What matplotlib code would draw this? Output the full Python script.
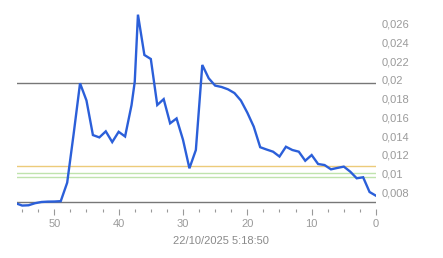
import matplotlib
matplotlib.use('Agg')
import matplotlib.pyplot as plt
from matplotlib.ticker import MultipleLocator

plt.rcParams['font.family'] = ['Liberation Sans', 'DejaVu Sans']

# minutes back from the timestamp, and the measured value
minutes = [56, 55, 54, 53, 52, 51, 50, 49, 48, 47, 46, 45, 44, 43, 42, 41, 40, 39, 38,
           37.5, 37, 36, 35, 34, 33, 32, 31, 30, 29, 28, 27, 26, 25, 24, 23, 22, 21, 20,
           19, 18, 17, 16, 15, 14, 13, 12, 11, 10, 9, 8, 7, 6, 5, 4, 3, 2, 1, 0]
values = [0.00680, 0.00655, 0.00658, 0.00680, 0.00693, 0.00697, 0.00698, 0.00702, 0.00900,
          0.01420, 0.01965, 0.01780, 0.01410, 0.01385, 0.01450, 0.01335, 0.01445, 0.01395,
          0.01730, 0.01980, 0.02700, 0.02268, 0.02225, 0.01732, 0.01795, 0.01536, 0.01588,
          0.01360, 0.01054, 0.01250, 0.02161, 0.02018, 0.01940, 0.01925, 0.01900, 0.01860,
          0.01780, 0.01650, 0.01500, 0.01280, 0.01255, 0.01232, 0.01180, 0.01285, 0.01250,
          0.01232, 0.01135, 0.01196, 0.01100, 0.01089, 0.01043, 0.01058, 0.01072, 0.01018,
          0.00947, 0.00958, 0.00800, 0.00760]

# reference lines
ref_dark = [0.01965, 0.00690]
ref_orange = [0.01075]
ref_green = [0.01000, 0.00961]

ytick_vals = [0.008, 0.010, 0.012, 0.014, 0.016, 0.018, 0.020, 0.022, 0.024, 0.026]
ytick_labels = ['0,008', '0,01', '0,012', '0,014', '0,016', '0,018', '0,02', '0,022', '0,024', '0,026']
xtick_vals = [50, 40, 30, 20, 10, 0]
timestamp = '22/10/2025 5:18:50'

W, H = 443, 258
fig = plt.figure(figsize=(W / 100, H / 100), dpi=100)
ax = fig.add_axes([17 / W, 1 - 209 / H, (376 - 17) / W, 209 / H])

for v in ref_dark:
    ax.axhline(v, color='#777777', lw=1.0, zorder=1)
for v in ref_orange:
    ax.axhline(v, color='#eccb7a', lw=1.0, zorder=1)
for v in ref_green:
    ax.axhline(v, color='#bfe3ad', lw=1.0, zorder=1)

ax.plot(minutes, values, color='#2b5fd9', lw=1.7, zorder=3, solid_joinstyle='miter')

ax.set_xlim(55.8, 0)
ax.set_ylim(0.00618, 0.02857)

for s in ax.spines.values():
    s.set_visible(False)

ax.yaxis.tick_right()
ax.set_yticks(ytick_vals)
ax.set_yticklabels(ytick_labels)
ax.tick_params(axis='y', length=0, pad=4, labelsize=8, labelcolor='#9a9a9a')

ax.set_xticks(xtick_vals)
ax.xaxis.set_minor_locator(MultipleLocator(2.5))
ax.tick_params(axis='x', which='major', length=4, width=0.8, color='#999999',
               labelsize=8, labelcolor='#9a9a9a', pad=3)
ax.tick_params(axis='x', which='minor', length=2, width=0.8, color='#999999')

fig.text(221 / W, 1 - 241 / H, timestamp, ha='center', va='center',
         fontsize=8, color='#8a8a8a')

fig.savefig('out.png', dpi=100, facecolor='white')
